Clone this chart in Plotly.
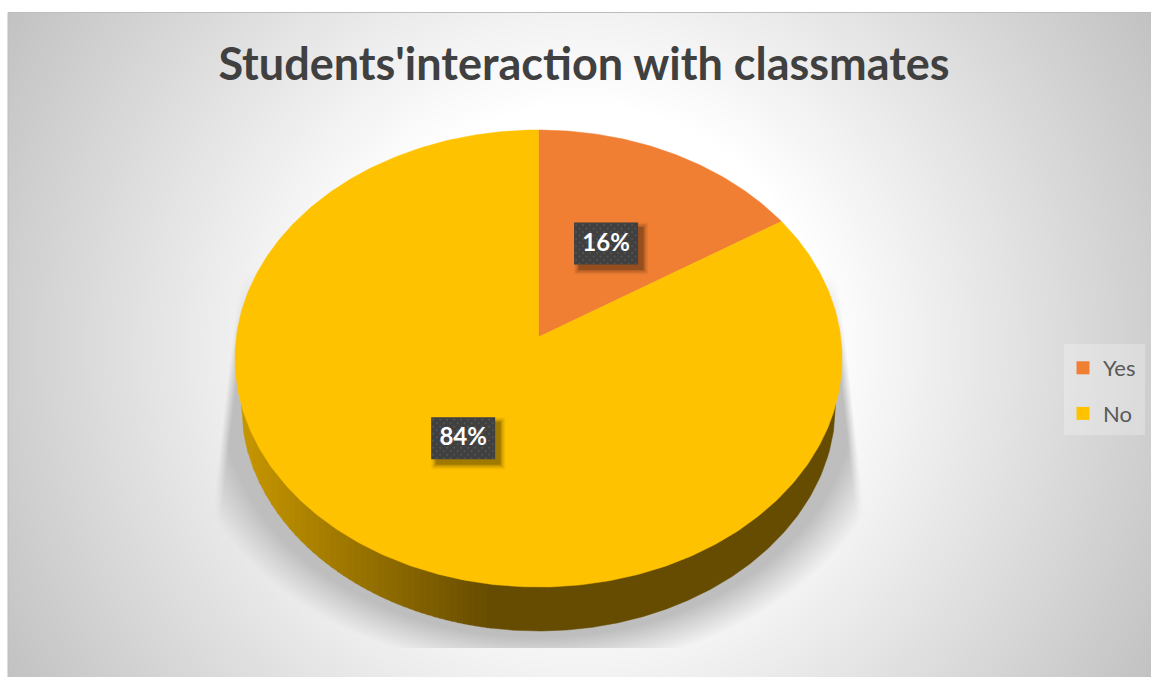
import numpy as np
import plotly.graph_objects as go

# ---- data -------------------------------------------------------------
TITLE = "Students'interaction with classmates"
CATEGORIES = ["Yes", "No"]
VALUES = [16, 84]
COLORS = ["#F07F33", "#FFC200"]

W, H = 1151, 677
FONT = "Lato, 'Open Sans', sans-serif"

# ---- perspective pie projection (unit disc -> pixel axes) --------------
AX, AY = 538.5, 337.0     # apex of the pie
A, B, K = 302.2, 226.5, 0.0941


def project(r, angle):
    """r in 0..1, angle in radians clockwise from 12 o'clock."""
    X, Y = r * np.sin(angle), r * np.cos(angle)
    d = 1 + K * Y
    return AX + A * X / d, AY - B * Y / d


# ---- background raster: radial gradient with the soft floor shadow -----
xs = np.arange(8.5, W + 1, 1.0)
ys = np.arange(12.5, H + 1, 1.0)
gx, gy = np.meshgrid(xs, ys)
rad = np.hypot(gx - 580, gy - 345)
bg = np.minimum(255, 194 + (660 - rad) * 0.145)
s = np.hypot((gx - 538) / 303, (gy - 400) / 228)
alpha = np.clip((1.19 - s) / 0.15, 0, 1)
alpha *= np.clip((gy - 270) / 100, 0, 1)
left = 238 - (gy - 290) * 23 / 200
right = 840 + (gy - 290) * 22 / 200
alpha *= np.clip((gx - left) / 9, 0, 1) * np.clip((right - gx) / 9, 0, 1)
alpha = alpha * (gy < 648)
bg = bg * (1 - alpha) + 190 * alpha

fig = go.Figure()
fig.add_trace(go.Heatmap(
    x=xs, y=ys, z=np.round(bg).astype(np.uint8), zmin=0, zmax=255, zsmooth=False,
    colorscale=[[0, "#000000"], [1, "#ffffff"]], showscale=False,
    hoverinfo="skip", showlegend=False))

# ---- side wall, drawn in vertical strips for its gradient --------------
WALL_RX, WALL_CY, WALL_RY = 297.0, 405.0, 226.0
WALL_LEFT = (0xC8, 0x97, 0x00)
WALL_RIGHT = (0x66, 0x4C, 0x00)


def wall_polygon(x0, x1):
    px = np.linspace(x0, x1, max(4, int((x1 - x0) / 2)))
    py = WALL_CY + WALL_RY * np.sqrt(np.clip(1 - ((px - AX) / WALL_RX) ** 2, 0, 1))
    return (list(px) + [x1, x0, x0], list(py) + [WALL_CY - 50, WALL_CY - 50, py[0]])


edges = list(np.arange(AX - WALL_RX, 490, 6.0)) + [490.0, AX + WALL_RX]
for x0, x1 in zip(edges[:-1], edges[1:]):
    f = min(1.0, ((x0 + x1) / 2 - 238) / 252) if x0 < 490 else 1.0
    c = [round(a + (b - a) * f) for a, b in zip(WALL_LEFT, WALL_RIGHT)]
    col = f"rgb({c[0]},{c[1]},{c[2]})"
    px, py = wall_polygon(x0, min(x1 + 0.7, AX + WALL_RX))
    fig.add_trace(go.Scatter(x=px, y=py, mode="lines", fill="toself",
                             fillcolor=col, line=dict(width=0.5, color=col),
                             hoverinfo="skip", showlegend=False))

# ---- pie slices --------------------------------------------------------
total = sum(VALUES)
start = 0.0
mids = []
for name, v, col in zip(CATEGORIES, VALUES, COLORS):
    sweep = 2 * np.pi * v / total
    t = np.linspace(start, start + sweep, max(8, int(v * 5)))
    px, py = project(1.0, t)
    fig.add_trace(go.Scatter(
        x=[AX] + list(px) + [AX], y=[AY] + list(py) + [AY], mode="lines",
        fill="toself", fillcolor=col, line=dict(width=0.5, color=col),
        name=name, legendgroup=name, showlegend=False,
        hovertemplate=f"{name}: {v}%<extra></extra>"))
    mids.append(start + sweep / 2)
    start += sweep

# ---- data labels: shadowed dark box, dotted texture, white text ---------
BOX_W, BOX_H = 64, 42
for v, m in zip(VALUES, mids):
    cx, cy = project(0.49, m)
    cx = float(cx) - 1
    cy = float(cy)
    for grow, op in ((5, 0.05), (3.5, 0.08), (2, 0.12), (0.5, 0.18)):
        x0, x1 = cx - BOX_W / 2 + 5 - grow, cx + BOX_W / 2 + 5 + grow
        y0, y1 = cy - BOX_H / 2 + 5 - grow, cy + BOX_H / 2 + 5 + grow
        fig.add_trace(go.Scatter(x=[x0, x1, x1, x0, x0], y=[y0, y0, y1, y1, y0],
                                 mode="lines", fill="toself",
                                 fillcolor=f"rgba(0,0,0,{op})", line=dict(width=0),
                                 hoverinfo="skip", showlegend=False))
    x0, x1 = cx - BOX_W / 2, cx + BOX_W / 2
    y0, y1 = cy - BOX_H / 2, cy + BOX_H / 2
    fig.add_trace(go.Scatter(x=[x0, x1, x1, x0, x0], y=[y0, y0, y1, y1, y0],
                             mode="lines", fill="toself", fillcolor="#404040",
                             line=dict(width=0), hoverinfo="skip", showlegend=False))
    dx, dy = [], []
    for j, yy in enumerate(np.arange(y0 + 2.5, y1, 3.5)):
        for xx in np.arange(x0 + 2 + (j % 2) * 3.5, x1, 7.0):
            dx.append(xx)
            dy.append(yy)
    fig.add_trace(go.Scatter(x=dx, y=dy, mode="markers",
                             marker=dict(size=2, color="#565656", line=dict(width=0)),
                             hoverinfo="skip", showlegend=False))
    fig.add_trace(go.Scatter(x=[cx], y=[cy + 1], mode="text", text=[f"<b>{v}%</b>"],
                             textposition="middle center",
                             textfont=dict(family=FONT, size=24, color="#ffffff"),
                             hoverinfo="skip", showlegend=False))

# ---- legend entries ------------------------------------------------------
for name, col in zip(CATEGORIES, COLORS):
    fig.add_trace(go.Scatter(x=[None], y=[None], mode="markers", name=name,
                             legendgroup=name,
                             marker=dict(symbol="square", size=13, color=col,
                                         line=dict(width=0))))

shapes = [
    dict(type="rect", xref="x", yref="y", x0=8, x1=W + 2, y0=12.5, y1=H + 2,
         line=dict(color="#bdbdbd", width=1), fillcolor="rgba(0,0,0,0)", layer="above"),
    dict(type="rect", xref="x", yref="y", x0=1064, x1=1145, y0=344, y1=435,
         line=dict(width=0), fillcolor="rgba(255,255,255,0.25)", layer="above"),
]

fig.update_layout(
    width=W, height=H,
    margin=dict(l=0, r=0, t=0, b=0),
    paper_bgcolor="#ffffff", plot_bgcolor="#ffffff",
    title=dict(text=f"<b>{TITLE}</b>", x=584 / W, xanchor="center",
               y=1 - 64 / H, yanchor="middle",
               font=dict(family=FONT, size=45, color="#404040")),
    xaxis=dict(range=[0, W], visible=False, fixedrange=True),
    yaxis=dict(range=[H, 0], visible=False, fixedrange=True),
    legend=dict(x=1063 / W, y=1 - 347 / H, xanchor="left", yanchor="top",
                bgcolor="rgba(0,0,0,0)", tracegroupgap=14,
                font=dict(family=FONT, size=22, color="#595959")),
    shapes=shapes,
)

fig.write_html("out.html", config={"displayModeBar": False},
               post_script="document.body.style.margin='0';document.body.style.overflow='hidden';")
